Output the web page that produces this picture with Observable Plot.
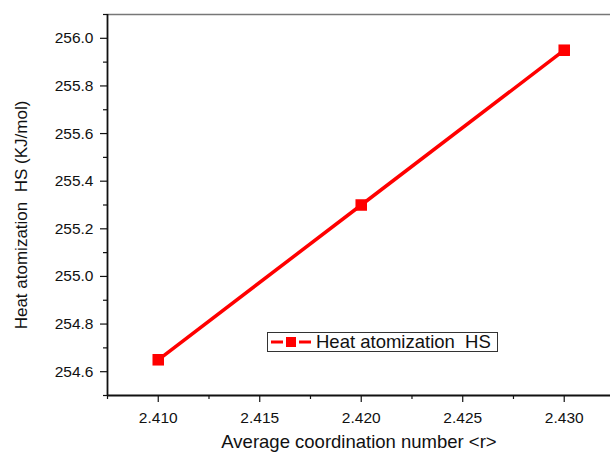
<!DOCTYPE html>
<html>
<head>
<meta charset="utf-8">
<script src="https://cdn.jsdelivr.net/npm/d3@7"></script>
<script src="https://cdn.jsdelivr.net/npm/@observablehq/plot@0.6"></script>
<style>
  html, body { margin: 0; padding: 0; background: #fff; }
  #wrap { position: relative; width: 610px; height: 453px; font-family: "Liberation Sans", Arial, sans-serif; }
  #legend { position: absolute; left: 267px; top: 332px; width: 231px; height: 20px; border: 1px solid #333; background: #fff;
            display: flex; align-items: center; font-size: 18.5px; line-height: 18px; color: #111; box-sizing: border-box; white-space: pre; overflow: visible; }
  #legend svg { margin-left: 2px; margin-right: 4px; flex: none; }
</style>
</head>
<body>
<div id="wrap"></div>
<script>
const coordNumber = [2.410, 2.420, 2.430];
const heatHS = [254.65, 255.30, 255.95];
const seriesName = "Heat atomization  HS";
const xTicks = [2.410, 2.415, 2.420, 2.425, 2.430];
const xMinorTicks = [2.4075, 2.4125, 2.4175, 2.4225, 2.4275];
const yTicks = [254.6, 254.8, 255.0, 255.2, 255.4, 255.6, 255.8, 256.0];
const yMinorTicks = [254.5, 254.7, 254.9, 255.1, 255.3, 255.5, 255.7, 255.9, 256.1];

const data = coordNumber.map((x, i) => ({x, y: heatHS[i]}));

const chart = Plot.plot({
  width: 610,
  height: 453,
  marginLeft: 107,
  marginRight: 0,
  marginTop: 14,
  marginBottom: 58,
  style: {fontFamily: "Liberation Sans, Arial, sans-serif", fontSize: "15.5px", color: "#111", background: "#fff"},
  x: {domain: [2.4075, 2.43228]},
  y: {domain: [254.5, 256.1]},
  marks: [
    Plot.frame({anchor: "top", stroke: "#777", strokeWidth: 1.5}),
    Plot.axisX({ticks: xMinorTicks, tickSize: 4, tickFormat: () => "", strokeWidth: 1.2, label: null}),
    Plot.axisX({ticks: xTicks, tickSize: 7, tickPadding: 9, tickFormat: d3.format(".3f"), fontSize: 15.5, strokeWidth: 1.2,
      label: "Average coordination number <r>", labelAnchor: "center", labelArrow: "none", labelOffset: 52}),
    Plot.axisY({ticks: yMinorTicks, tickSize: 4, tickFormat: () => "", strokeWidth: 1.2, label: null}),
    Plot.axisY({ticks: yTicks, tickSize: 7, tickPadding: 7, tickFormat: d3.format(".1f"), fontSize: 15.5, strokeWidth: 1.2,
      label: "Heat atomization  HS (KJ/mol)", labelAnchor: "center", labelArrow: "none", labelOffset: 93}),
    Plot.ruleX([2.4075], {stroke: "#111", strokeWidth: 1.8}),
    Plot.ruleY([254.5], {stroke: "#111", strokeWidth: 1.8}),
    Plot.line(data, {x: "x", y: "y", stroke: "#ff0000", strokeWidth: 3.5}),
    Plot.dot(data, {x: "x", y: "y", symbol: "square", r: 6.5, fill: "#ff0000", stroke: "none"})
  ]
});

chart.querySelectorAll("[aria-label='x-axis label'] text").forEach(t => {
  t.setAttribute("font-size", "18.5");
  t.style.whiteSpace = "pre";
});
chart.querySelectorAll("[aria-label='y-axis label'] text").forEach(t => {
  t.setAttribute("font-size", "17");
  t.style.whiteSpace = "pre";
  t.setAttribute("x", String(Number(t.getAttribute("x") || 0) - 10));
});

const wrap = document.getElementById("wrap");
wrap.appendChild(chart);

const legend = document.createElement("div");
legend.id = "legend";
legend.innerHTML = `<svg width="42" height="12"><line x1="1" y1="6" x2="13" y2="6" stroke="#ff0000" stroke-width="3"/><line x1="29" y1="6" x2="41" y2="6" stroke="#ff0000" stroke-width="3"/><rect x="16" y="1" width="10" height="10" fill="#ff0000"/></svg><span></span>`;
legend.querySelector("span").textContent = seriesName;
wrap.appendChild(legend);
</script>
</body>
</html>
